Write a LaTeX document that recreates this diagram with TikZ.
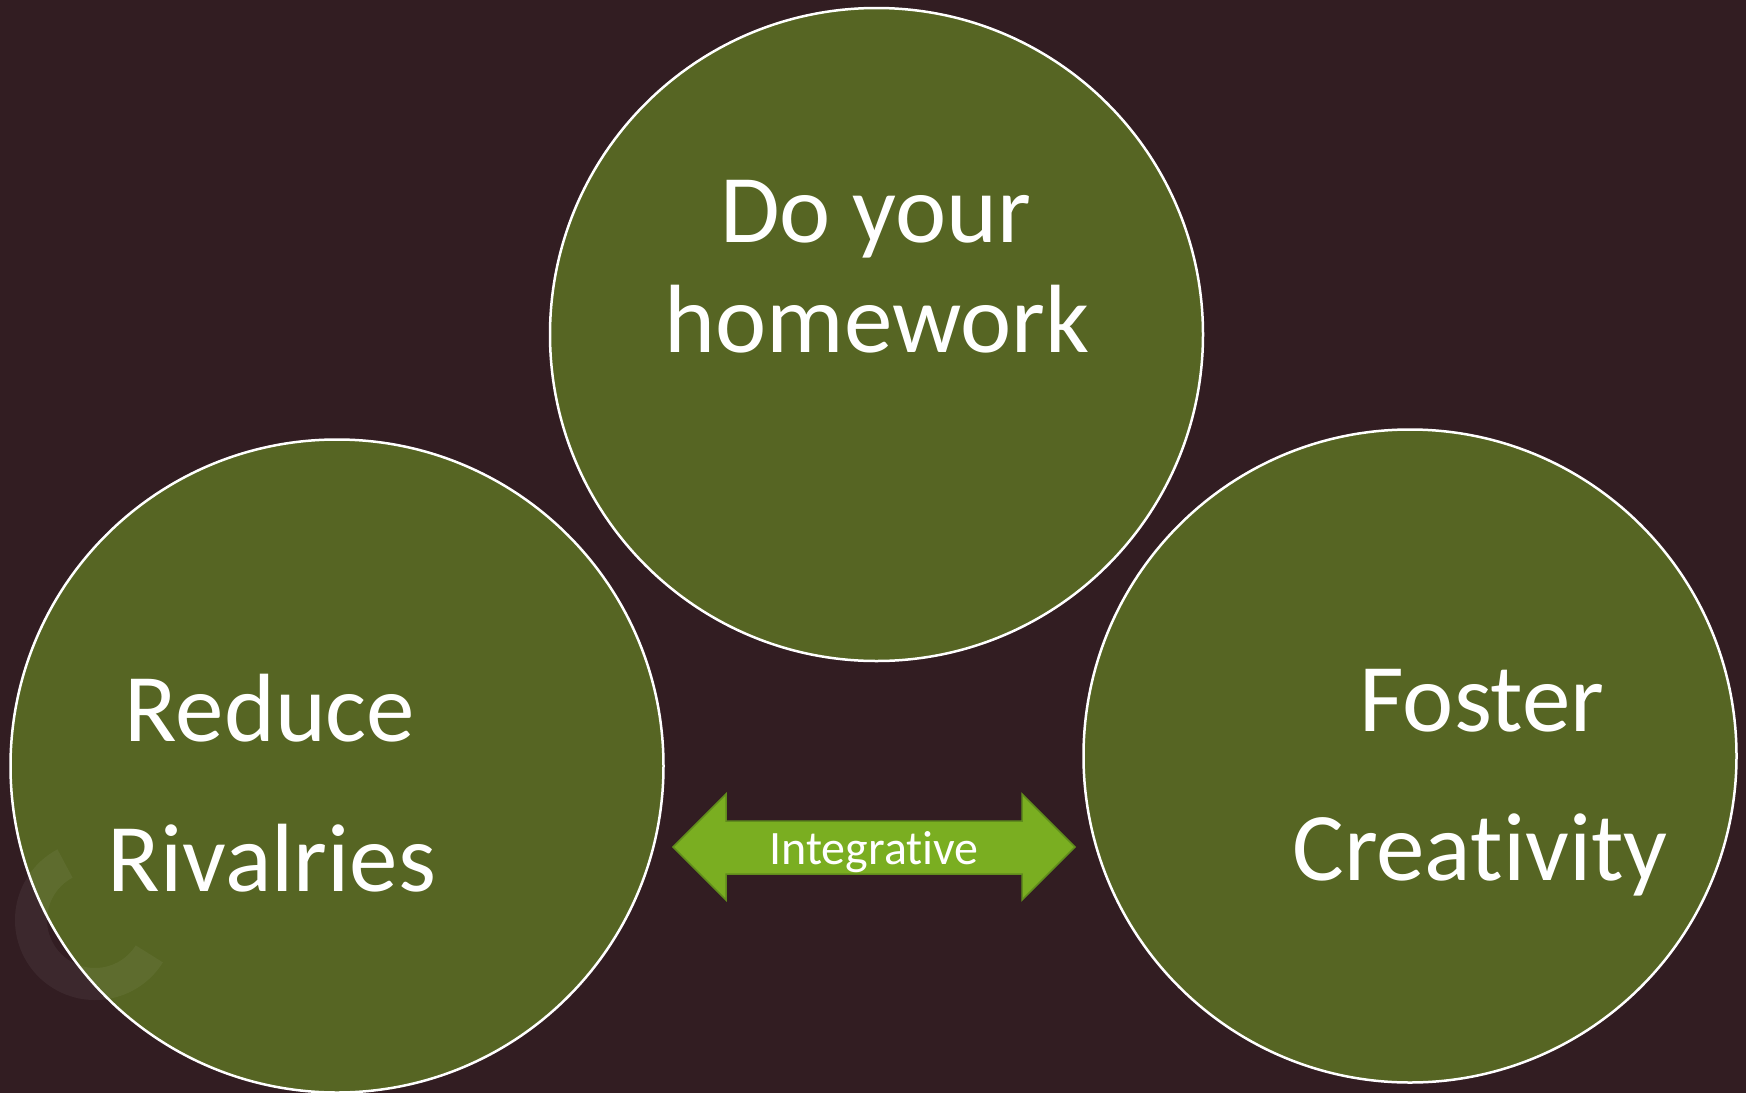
\documentclass[tikz,border=0pt]{standalone}
\usepackage{fontspec}
\setmainfont{Carlito}[Ligatures=NoCommon]
\definecolor{bgplum}{RGB}{50,29,34}
\definecolor{leafgreen}{RGB}{86,101,35}
\definecolor{arrowgreen}{RGB}{122,174,33}
\definecolor{arrowedge}{RGB}{96,140,28}

\begin{document}
\begin{tikzpicture}[x=1pt, y=-1pt,
  bubble/.style={circle, draw=white, line width=2.5pt, fill=leafgreen, minimum size=653pt, inner sep=0pt},
  bigtext/.style={text=white, anchor=base, inner sep=0pt, font=\fontsize{97}{112}\selectfont},
  linktext/.style={text=white, anchor=base, inner sep=0pt, font=\fontsize{48}{58}\selectfont}]
  % background and page size
  \fill[bgplum] (0,0) rectangle (1746,1093);
  \useasboundingbox (0,0) rectangle (1746,1093);

  % the three circles
  \node[bubble] (homework) at (876.5,334.5) {};
  \node[bubble] (rivalries) at (337,766) {};
  \node[bubble] (creativity) at (1410,756) {};

  % faint logo in the corner
  \fill[white, opacity=0.05] (95,920) ++(32:80) arc (32:242:80) -- (72.5,877.6) arc (242:32:48) -- cycle;

  \node[bigtext] (homeworkA) at (876,242) {Do your};
  \node[bigtext] (homeworkB) at (877,352) {homework};
  \node[bigtext] (rivalriesA) at (270,741) {Reduce};
  \node[bigtext] (rivalriesB) at (272,891) {Rivalries};
  \node[bigtext] (creativityA) at (1482,731) {Foster};
  \node[bigtext] (creativityB) at (1480,880) {Creativity};

  % double arrow between the lower circles
  \filldraw[fill=arrowgreen, draw=arrowedge, line width=1.5pt, line join=miter]
    (673,847) -- (726,794) -- (726,821) -- (1022,821) -- (1022,794) -- (1075,847)
    -- (1022,900) -- (1022,874) -- (726,874) -- (726,900) -- cycle;
  \node[linktext] (link) at (874,864) {Integrative};
\end{tikzpicture}
\end{document}
